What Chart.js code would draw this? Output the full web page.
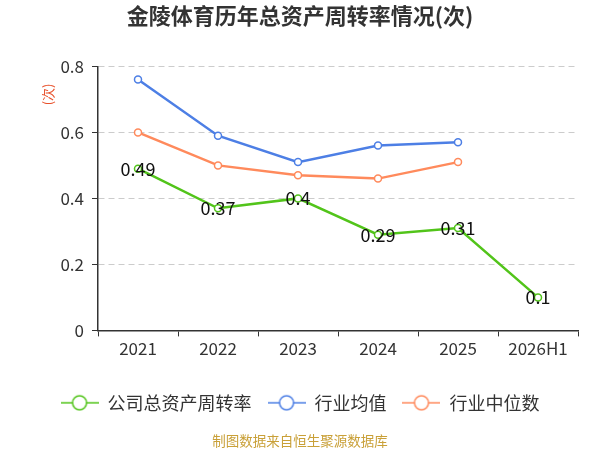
<!DOCTYPE html>
<html>
<head>
<meta charset="utf-8">
<script src="https://cdn.jsdelivr.net/npm/chart.js@4"></script>
<style>
  html, body { margin: 0; padding: 0; background: #fff; }
  #wrap { width: 600px; height: 450px; }
</style>
</head>
<body>
<div id="wrap"><canvas id="lineChart"></canvas></div>
<script>
// data
var years = ['2021', '2022', '2023', '2024', '2025', '2026H1'];
var companyTurnover = [0.49, 0.37, 0.4, 0.29, 0.31, 0.1];
var industryAvg = [0.76, 0.59, 0.51, 0.56, 0.57, null];
var industryMedian = [0.60, 0.50, 0.47, 0.46, 0.51, null];
var yTicks = [0, 0.2, 0.4, 0.6, 0.8];

var green = '#52c41a';
var blue = '#4d7fe5';
var orange = '#ff8a5c';
var fontFamily = '"Noto Sans CJK SC", "Noto Sans", sans-serif';

// legend marker: short line with a hollow circle in the middle
function legendIcon(color) {
    var c = document.createElement('canvas');
    c.width = 38; c.height = 18;
    var g = c.getContext('2d');
    g.strokeStyle = color;
    g.lineWidth = 1.5;
    g.beginPath(); g.moveTo(0, 9); g.lineTo(38, 9); g.stroke();
    g.fillStyle = '#fff';
    g.beginPath(); g.arc(19, 9, 7, 0, Math.PI * 2); g.fill(); g.stroke();
    return c;
}

// value labels on the company line, and the small unit label
var extras = {
    id: 'extras',
    afterDatasetsDraw(chart) {
        var ctx = chart.ctx;
        var meta = chart.getDatasetMeta(0);
        ctx.save();
        ctx.font = '18px ' + fontFamily;
        ctx.fillStyle = '#111';
        ctx.textAlign = 'center';
        ctx.textBaseline = 'middle';
        meta.data.forEach(function (pt, i) {
            ctx.fillText(String(companyTurnover[i]), pt.x, pt.y);
        });
        ctx.restore();

        ctx.save();
        ctx.translate(48, chart.chartArea.top + 28);
        ctx.rotate(-Math.PI / 2);
        ctx.font = '13px ' + fontFamily;
        ctx.fillStyle = '#e8502a';
        ctx.textAlign = 'center';
        ctx.textBaseline = 'middle';
        ctx.fillText('(次)', 0, 0);
        ctx.restore();
    }
};

function lineSet(label, data, color) {
    return {
        label: label,
        data: data,
        borderColor: color,
        backgroundColor: '#fff',
        borderWidth: 2.5,
        pointRadius: 3.5,
        pointBorderWidth: 1.5,
        pointBackgroundColor: '#fff',
        pointBorderColor: color,
        tension: 0,
        spanGaps: false
    };
}

var ctx = document.getElementById('lineChart');

new Chart(ctx, {
    type: 'line',
    data: {
        labels: years,
        datasets: [
            lineSet('公司总资产周转率', companyTurnover, green),
            lineSet('行业均值', industryAvg, blue),
            lineSet('行业中位数', industryMedian, orange)
        ]
    },
    plugins: [extras],
    options: {
        responsive: true,
        maintainAspectRatio: false,
        animation: false,
        layout: { padding: { left: 22, right: 22, top: 0, bottom: 0 } },
        plugins: {
            title: {
                display: true,
                text: '金陵体育历年总资产周转率情况(次)',
                color: '#333',
                font: { family: fontFamily, size: 22, weight: 'bold' },
                padding: { top: 2, bottom: 38 }
            },
            subtitle: {
                display: true,
                position: 'bottom',
                text: '制图数据来自恒生聚源数据库',
                color: '#c9a038',
                font: { family: fontFamily, size: 13.5 },
                padding: { top: 11, bottom: 1 }
            },
            legend: {
                position: 'bottom',
                labels: {
                    color: '#333',
                    font: { family: fontFamily, size: 18 },
                    usePointStyle: true,
                    pointStyleWidth: 38,
                    padding: 16,
                    generateLabels: function (chart) {
                        return chart.data.datasets.map(function (ds, i) {
                            return {
                                text: ds.label,
                                pointStyle: legendIcon(ds.borderColor),
                                fillStyle: '#fff',
                                strokeStyle: ds.borderColor,
                                lineWidth: 0,
                                datasetIndex: i,
                                fontColor: '#333'
                            };
                        });
                    }
                }
            },
            tooltip: { enabled: false }
        },
        scales: {
            x: {
                offset: true,
                afterFit: function (scale) { scale.height += 17; },
                grid: {
                    offset: true,
                    drawOnChartArea: false,
                    drawTicks: true,
                    tickLength: 6,
                    tickColor: '#333'
                },
                border: { color: '#333', width: 1.5 },
                ticks: {
                    color: '#333',
                    font: { family: fontFamily, size: 17 },
                    padding: 2
                }
            },
            y: {
                min: 0,
                max: yTicks[yTicks.length - 1],
                afterBuildTicks: function (scale) {
                    scale.ticks = yTicks.map(function (v) { return { value: v }; });
                },
                afterFit: function (scale) { scale.width = 76; },
                grid: {
                    color: '#cccccc',
                    lineWidth: 1,
                    tickLength: 6,
                    tickColor: '#333'
                },
                border: { color: '#333', width: 1.5, dash: [6, 4] },
                ticks: {
                    color: '#333',
                    font: { family: fontFamily, size: 17 },
                    padding: 8
                }
            }
        }
    }
});
</script>
</body>
</html>
